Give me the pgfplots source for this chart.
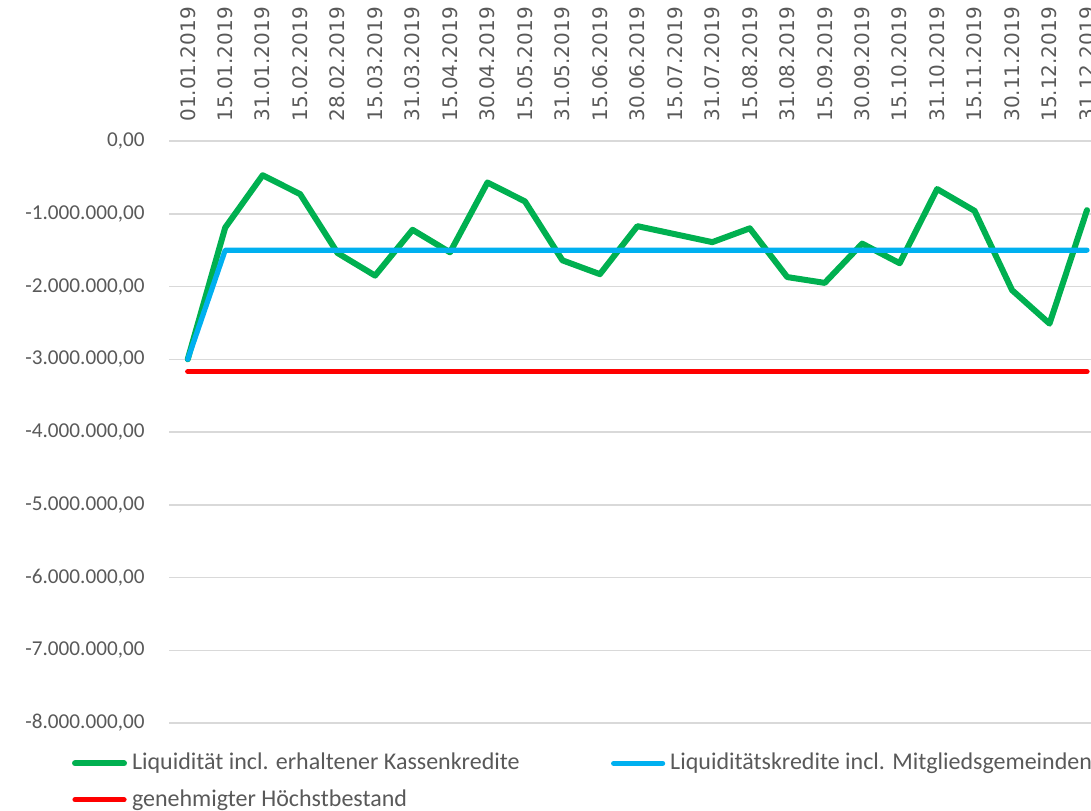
\documentclass[border=0pt]{standalone}
\usepackage{pgfplots}
\pgfplotsset{compat=1.18}
\usepackage{fontspec}
\setmainfont{Carlito}
\newfontfamily\datefont{DejaVu Sans}
\definecolor{lgreen}{HTML}{00B050}
\definecolor{lblue}{HTML}{00B0F0}
\definecolor{lred}{HTML}{FF0000}
\definecolor{txtgray}{HTML}{595959}
\definecolor{gridgray}{HTML}{D9D9D9}

\begin{document}
\begin{tikzpicture}
\begin{axis}[
  at={(84.5pt,-361.5pt)}, anchor=south west,
  scale only axis, width=461pt, height=291pt,
  xmin=-0.5, xmax=24.107, ymin=-8000000, ymax=0,
  axis line style={draw=none},
  major tick length=0pt,
  scaled y ticks=false,
  ymajorgrids, grid style={gridgray, line width=0.75pt},
  ytick={-8000000,-7000000,-6000000,-5000000,-4000000,-3000000,-2000000,-1000000,0},
  yticklabels={{-8.000.000,00},{-7.000.000,00},{-6.000.000,00},{-5.000.000,00},{-4.000.000,00},{-3.000.000,00},{-2.000.000,00},{-1.000.000,00},{0,00}},
  yticklabel style={font=\fontsize{10.6}{12}\selectfont, text=txtgray, inner sep=0pt, xshift=-12pt},
  xtick={0,1,...,24},
  xticklabels={01.01.2019,15.01.2019,31.01.2019,15.02.2019,28.02.2019,15.03.2019,31.03.2019,15.04.2019,30.04.2019,15.05.2019,31.05.2019,15.06.2019,30.06.2019,15.07.2019,31.07.2019,15.08.2019,31.08.2019,15.09.2019,30.09.2019,15.10.2019,31.10.2019,15.11.2019,30.11.2019,15.12.2019,31.12.2019},
  xticklabel pos=upper,
  xticklabel style={rotate=90, anchor=west, inner sep=0pt, xshift=9.5pt, font=\datefont\fontsize{10}{12}\selectfont, text=txtgray},
  clip=false,
  legend columns=2,
  legend cell align=left,
  legend style={at={(-0.1056,-0.0454)}, anchor=north west, draw=none, fill=none, inner sep=0pt,
    row sep=6.6pt, font=\fontsize{12}{14.4}\selectfont, text=txtgray,
    nodes={inner sep=0pt},
    /tikz/every odd column/.append style={column sep=2.5pt}},
  legend image code/.code={\draw[#1, line cap=round] (0pt,-1pt) -- (24.5pt,-1pt);},
  every axis plot/.append style={line join=round, line cap=round},
]
\addplot[lgreen, line width=3pt] coordinates {
(0,-3000000)(1,-1190000)(2,-470000)(3,-730000)(4,-1540000)(5,-1850000)(6,-1220000)(7,-1530000)
(8,-570000)(9,-830000)(10,-1640000)(11,-1830000)(12,-1170000)(13,-1280000)(14,-1390000)(15,-1200000)
(16,-1870000)(17,-1950000)(18,-1410000)(19,-1680000)(20,-660000)(21,-960000)(22,-2050000)(23,-2510000)(24,-950000)};
\addlegendentry{\makebox[239.5pt][l]{\strut Liquidität incl. erhaltener Kassenkredite}}
\addplot[lblue, line width=2.6pt] coordinates {
(0,-3000000)(1,-1500000)(2,-1500000)(3,-1500000)(4,-1500000)(5,-1500000)(6,-1500000)(7,-1500000)
(8,-1500000)(9,-1500000)(10,-1500000)(11,-1500000)(12,-1500000)(13,-1500000)(14,-1500000)(15,-1500000)
(16,-1500000)(17,-1500000)(18,-1500000)(19,-1500000)(20,-1500000)(21,-1500000)(22,-1500000)(23,-1500000)(24,-1500000)};
\addlegendentry{\strut Liquiditätskredite incl. Mitgliedsgemeinden}
\addplot[lred, line width=2.6pt] coordinates {
(0,-3170000)(1,-3170000)(2,-3170000)(3,-3170000)(4,-3170000)(5,-3170000)(6,-3170000)(7,-3170000)
(8,-3170000)(9,-3170000)(10,-3170000)(11,-3170000)(12,-3170000)(13,-3170000)(14,-3170000)(15,-3170000)
(16,-3170000)(17,-3170000)(18,-3170000)(19,-3170000)(20,-3170000)(21,-3170000)(22,-3170000)(23,-3170000)(24,-3170000)};
\addlegendentry{\strut genehmigter Höchstbestand}
\end{axis}
\pgfresetboundingbox
\path[use as bounding box] (0pt,0pt) rectangle (545.5pt,-405pt);
\end{tikzpicture}
\end{document}
